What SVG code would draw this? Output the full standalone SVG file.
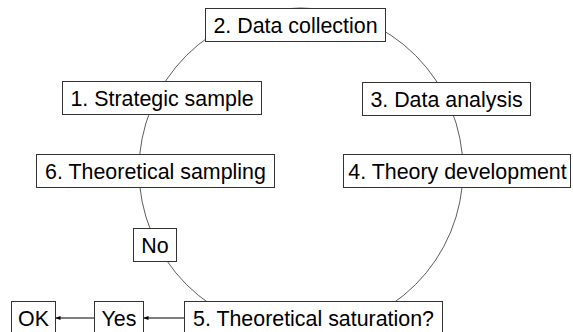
<svg xmlns="http://www.w3.org/2000/svg" width="573" height="332" viewBox="0 0 573 332">
<style>
.b{fill:#fff;stroke:#333;stroke-width:1}
.t{font-family:"Liberation Sans",Arial,sans-serif;font-size:21.4px;fill:#000;text-anchor:middle}
.c{fill:none;stroke:#333;stroke-width:0.8}
.a{fill:none;stroke:#000;stroke-width:1}
</style>
<defs>
<marker id="ah" viewBox="0 0 6 6" refX="6" refY="3" markerWidth="5" markerHeight="5" markerUnits="userSpaceOnUse" orient="auto">
<path d="M0,0.5 L6,3 L0,5.5 Z" fill="#000"/>
</marker>
</defs>
<g id="connectors">
<circle class="c" cx="301" cy="170" r="162"/>
<line class="a" x1="184" y1="318" x2="143.5" y2="318" marker-end="url(#ah)"/>
<line class="a" x1="94" y1="318" x2="55.5" y2="318" marker-end="url(#ah)"/>
</g>
<g id="n2"><rect class="b" x="205.5" y="8.5" width="180" height="33"/><text class="t" x="295.5" y="32.5">2. Data collection</text></g>
<g id="n1"><rect class="b" x="62.5" y="81.5" width="199" height="33"/><text class="t" x="162" y="105.5">1. Strategic sample</text></g>
<g id="n3"><rect class="b" x="362.5" y="82.5" width="168" height="33"/><text class="t" x="446.5" y="106.5">3. Data analysis</text></g>
<g id="n6"><rect class="b" x="36.5" y="154.5" width="238" height="33"/><text class="t" x="155.5" y="178.5">6. Theoretical sampling</text></g>
<g id="n4"><rect class="b" x="343.5" y="154.5" width="227" height="33"/><text class="t" x="457.5" y="178.5">4. Theory development</text></g>
<g id="no"><rect class="b" x="133.5" y="228.5" width="43" height="33"/><text class="t" x="155" y="252.5">No</text></g>
<g id="n5"><rect class="b" x="184.5" y="301.5" width="258" height="33"/><text class="t" x="313.5" y="325.5">5. Theoretical saturation?</text></g>
<g id="yes"><rect class="b" x="94.5" y="301.5" width="49" height="33"/><text class="t" x="119" y="325.5">Yes</text></g>
<g id="ok"><rect class="b" x="11.5" y="301.5" width="44" height="33"/><text class="t" x="33.5" y="325.5">OK</text></g>
</svg>
